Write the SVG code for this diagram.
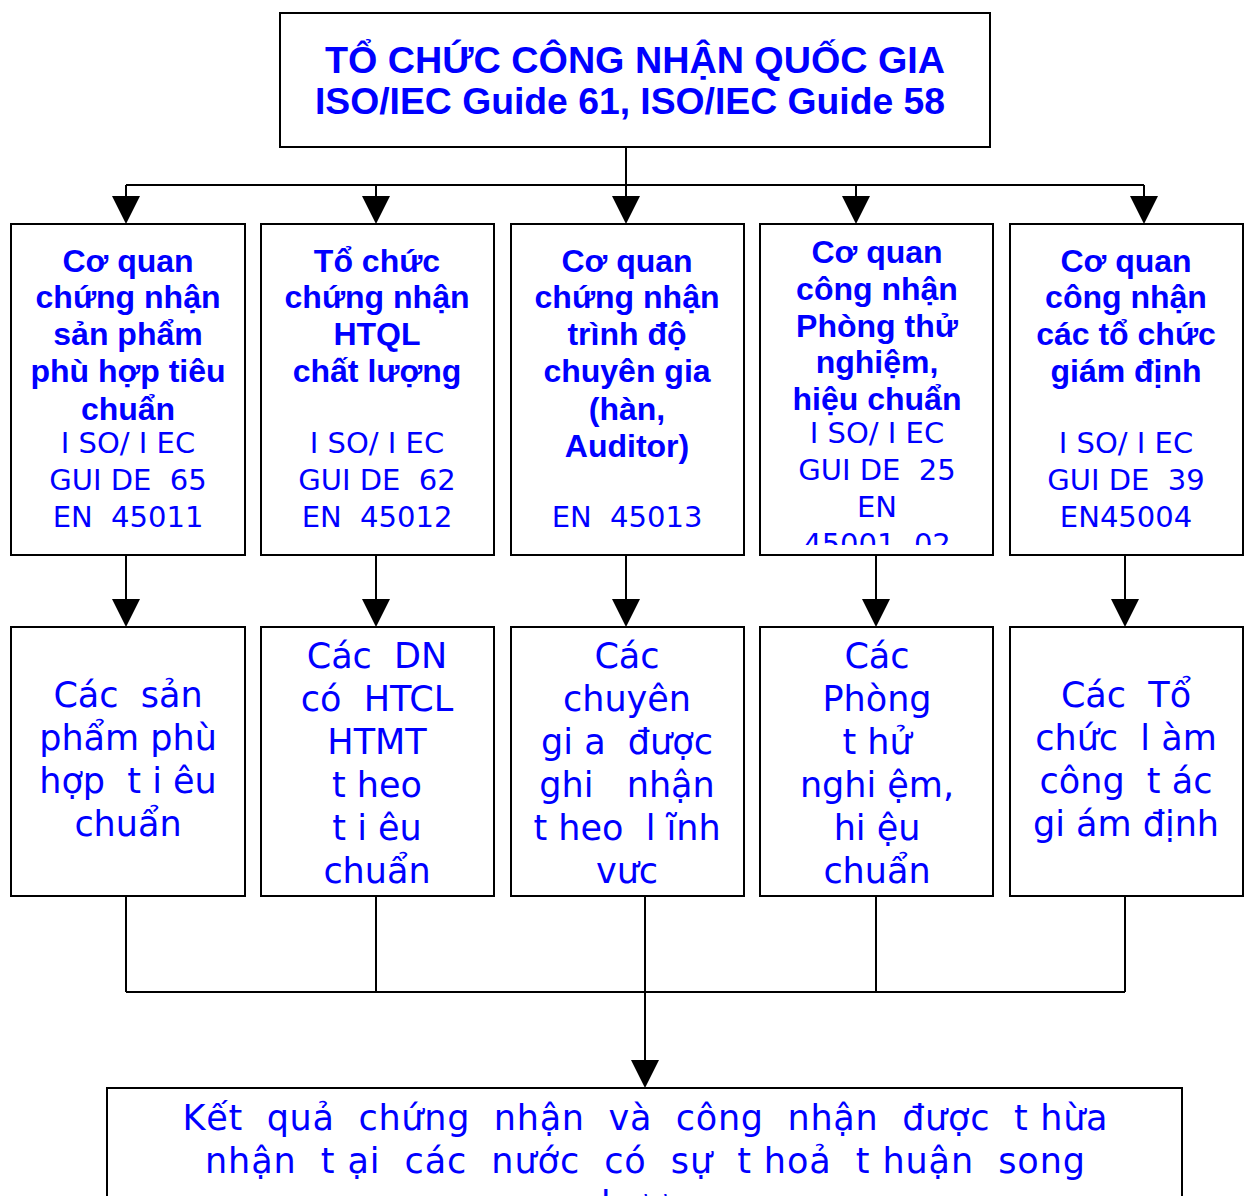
<svg xmlns="http://www.w3.org/2000/svg" width="1244" height="1196" viewBox="0 0 1244 1196">
<style>
.box{fill:#fff;stroke:#000;stroke-width:2}
.ln{fill:none;stroke:#000;stroke-width:2}
.ttl{font-family:"Liberation Sans",Arial,sans-serif;font-weight:bold;font-size:36px;fill:#0000ff;text-anchor:middle}
.b{font-family:"Liberation Sans",Arial,sans-serif;font-weight:bold;font-size:32px;fill:#0000ff;text-anchor:middle}
.r{font-family:"DejaVu Sans",sans-serif;font-size:29px;fill:#0000ff;text-anchor:middle;white-space:pre}
.l{font-family:"DejaVu Sans",sans-serif;font-size:35px;fill:#0000ff;text-anchor:middle;white-space:pre}
</style>
<defs>
<marker id="ah" markerUnits="userSpaceOnUse" markerWidth="28" markerHeight="30" refX="26" refY="14" orient="auto">
<path d="M0,0 L28,14 L0,28 Z" fill="#000"/>
</marker>
<clipPath id="c4"><rect x="761" y="225" width="231" height="320"/></clipPath>
</defs>
<g id="connectors">
<path class="ln" d="M626,147 V185 M126,185 H1144"/>
<path class="ln" d="M126,185 V222" marker-end="url(#ah)"/>
<path class="ln" d="M376,185 V222" marker-end="url(#ah)"/>
<path class="ln" d="M626,185 V222" marker-end="url(#ah)"/>
<path class="ln" d="M856,185 V222" marker-end="url(#ah)"/>
<path class="ln" d="M1144,185 V222" marker-end="url(#ah)"/>
<path class="ln" d="M126,555 V625" marker-end="url(#ah)"/>
<path class="ln" d="M376,555 V625" marker-end="url(#ah)"/>
<path class="ln" d="M626,555 V625" marker-end="url(#ah)"/>
<path class="ln" d="M876,555 V625" marker-end="url(#ah)"/>
<path class="ln" d="M1125,555 V625" marker-end="url(#ah)"/>
<path class="ln" d="M126,896 V992 M376,896 V992 M876,896 V992 M1125,896 V992 M126,992 H1125"/>
<path class="ln" d="M645,896 V1086" marker-end="url(#ah)"/>
</g>
<g id="top">
<rect class="box" x="280" y="13" width="710" height="134"/>
<text class="ttl" x="635" y="73" textLength="620" lengthAdjust="spacingAndGlyphs">TỔ CHỨC CÔNG NHẬN QUỐC GIA</text>
<text class="ttl" x="630" y="114" textLength="630" lengthAdjust="spacingAndGlyphs">ISO/IEC Guide 61, ISO/IEC Guide 58</text>
</g>
<g id="m1">
<rect class="box" x="11" y="224" width="234" height="331"/>
<text class="b"><tspan x="128" y="272">Cơ quan</tspan><tspan x="128" y="308">chứng nhận</tspan><tspan x="128" y="345">sản phẩm</tspan><tspan x="128" y="382">phù hợp tiêu</tspan><tspan x="128" y="420">chuẩn</tspan></text>
<text class="r"><tspan x="128" y="453">I SO/ I EC</tspan><tspan x="128" y="490">GUI DE  65</tspan><tspan x="128" y="527">EN  45011</tspan></text>
</g>
<g id="m2">
<rect class="box" x="261" y="224" width="233" height="331"/>
<text class="b"><tspan x="377" y="272">Tổ chức</tspan><tspan x="377" y="308">chứng nhận</tspan><tspan x="377" y="345">HTQL</tspan><tspan x="377" y="382">chất lượng</tspan></text>
<text class="r"><tspan x="377" y="453">I SO/ I EC</tspan><tspan x="377" y="490">GUI DE  62</tspan><tspan x="377" y="527">EN  45012</tspan></text>
</g>
<g id="m3">
<rect class="box" x="511" y="224" width="233" height="331"/>
<text class="b"><tspan x="627" y="272">Cơ quan</tspan><tspan x="627" y="308">chứng nhận</tspan><tspan x="627" y="345">trình độ</tspan><tspan x="627" y="382">chuyên gia</tspan><tspan x="627" y="420">(hàn,</tspan><tspan x="627" y="457">Auditor)</tspan></text>
<text class="r"><tspan x="627" y="527">EN  45013</tspan></text>
</g>
<g id="m4">
<rect class="box" x="760" y="224" width="233" height="331"/>
<g clip-path="url(#c4)">
<text class="b"><tspan x="877" y="263">Cơ quan</tspan><tspan x="877" y="300">công nhận</tspan><tspan x="877" y="337">Phòng thử</tspan><tspan x="877" y="373">nghiệm,</tspan><tspan x="877" y="410">hiệu chuẩn</tspan></text>
<text class="r"><tspan x="877" y="443">I SO/ I EC</tspan><tspan x="877" y="480">GUI DE  25</tspan><tspan x="877" y="517">EN</tspan><tspan x="877" y="554">45001, 02</tspan></text>
</g>
</g>
<g id="m5">
<rect class="box" x="1010" y="224" width="233" height="331"/>
<text class="b"><tspan x="1126" y="272">Cơ quan</tspan><tspan x="1126" y="308">công nhận</tspan><tspan x="1126" y="345">các tổ chức</tspan><tspan x="1126" y="382">giám định</tspan></text>
<text class="r"><tspan x="1126" y="453">I SO/ I EC</tspan><tspan x="1126" y="490">GUI DE  39</tspan><tspan x="1126" y="527">EN45004</tspan></text>
</g>
<g id="l1">
<rect class="box" x="11" y="627" width="234" height="269"/>
<text class="l"><tspan x="128" y="707">Các  sản</tspan><tspan x="128" y="750">phẩm phù</tspan><tspan x="128" y="793">hợp  t i êu</tspan><tspan x="128" y="836">chuẩn</tspan></text>
</g>
<g id="l2">
<rect class="box" x="261" y="627" width="233" height="269"/>
<text class="l"><tspan x="377" y="668">Các  DN</tspan><tspan x="377" y="711">có  HTCL</tspan><tspan x="377" y="754">HTMT</tspan><tspan x="377" y="797">t heo</tspan><tspan x="377" y="840">t i êu</tspan><tspan x="377" y="883">chuẩn</tspan></text>
</g>
<g id="l3">
<rect class="box" x="511" y="627" width="233" height="269"/>
<text class="l"><tspan x="627" y="668">Các</tspan><tspan x="627" y="711">chuyên</tspan><tspan x="627" y="754">gi a  được</tspan><tspan x="627" y="797">ghi   nhận</tspan><tspan x="627" y="840">t heo  l ĩnh</tspan><tspan x="627" y="883">vưc</tspan></text>
</g>
<g id="l4">
<rect class="box" x="760" y="627" width="233" height="269"/>
<text class="l"><tspan x="877" y="668">Các</tspan><tspan x="877" y="711">Phòng</tspan><tspan x="877" y="754">t hử</tspan><tspan x="877" y="797">nghi ệm,</tspan><tspan x="877" y="840">hi ệu</tspan><tspan x="877" y="883">chuẩn</tspan></text>
</g>
<g id="l5">
<rect class="box" x="1010" y="627" width="233" height="269"/>
<text class="l"><tspan x="1126" y="707">Các  Tổ</tspan><tspan x="1126" y="750">chức  l àm</tspan><tspan x="1126" y="793">công  t ác</tspan><tspan x="1126" y="836">gi ám định</tspan></text>
</g>
<g id="bottom">
<rect class="box" x="107" y="1088" width="1075" height="120"/>
<text class="l" x="645" y="1130" textLength="925" lengthAdjust="spacing">Kết  quả  chứng  nhận  và  công  nhận  được  t hừa</text>
<text class="l" x="645" y="1173" textLength="880" lengthAdjust="spacing">nhận  t ại  các  nước  có  sự  t hoả  t huận  song</text>
<text class="l" x="645" y="1216">phương</text>
</g>
</svg>
